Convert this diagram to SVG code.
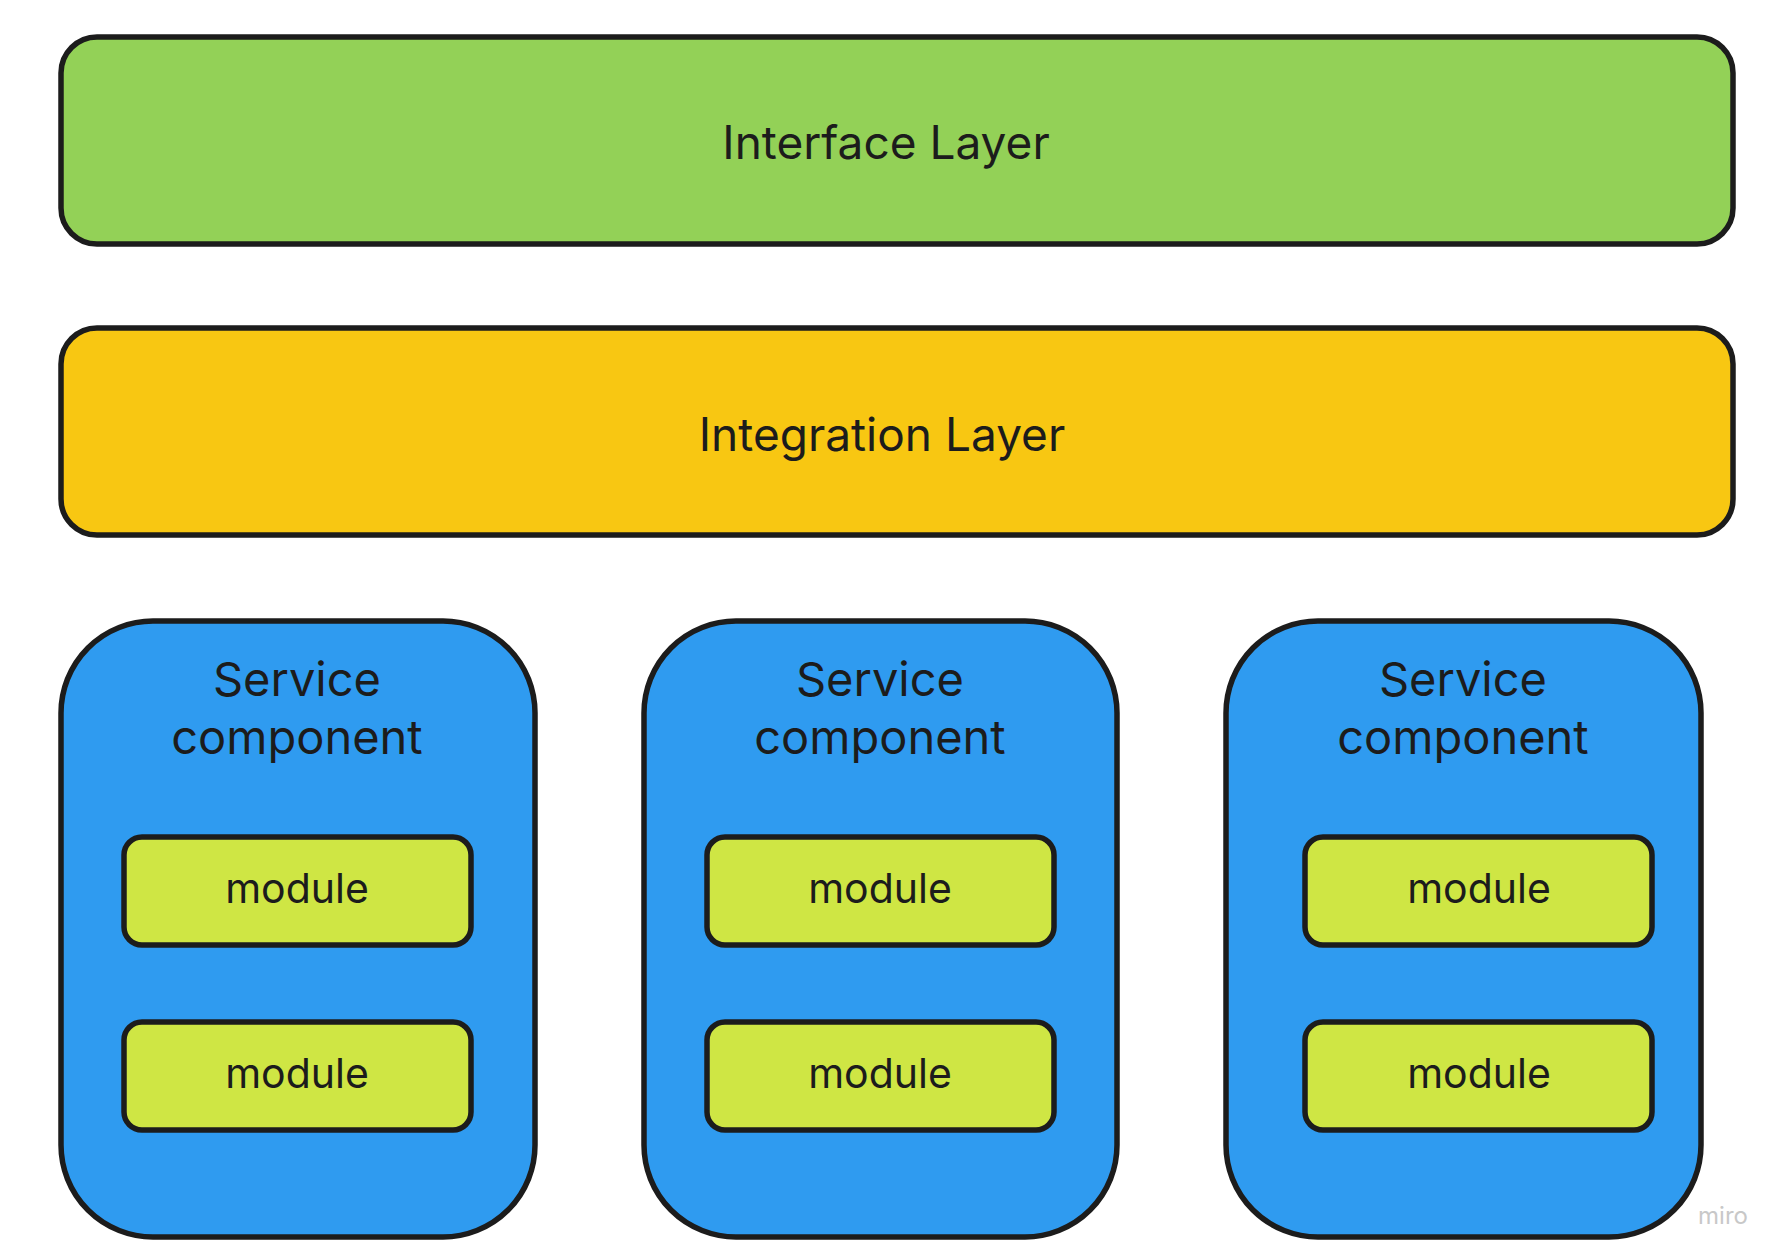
<svg xmlns="http://www.w3.org/2000/svg" width="1784" height="1260" viewBox="0 0 1784 1260">
<style>
.b{stroke:#1c1c1c;stroke-width:5.5}
.t{font-family:Inter,"Liberation Sans",sans-serif;fill:#1c1c1c;text-anchor:middle}
.L{font-size:46px}.S{font-size:47px}.M{font-size:41px}
</style>
<rect width="1784" height="1260" fill="#fff"/>
<g id="interface"><rect class="b" x="61" y="37" width="1672" height="207" rx="36" fill="#93D157"/><text class="t L" x="886" y="159">Interface Layer</text></g>
<g id="integration"><rect class="b" x="61" y="328" width="1672" height="207" rx="36" fill="#F8C712"/><text class="t L" x="882" y="451">Integration Layer</text></g>
<g id="svc1"><rect class="b" x="61" y="621" width="474" height="616" rx="92" fill="#2F9BF0"/><text class="t S" x="297" y="696">Service</text><text class="t S" x="297" y="754">component</text></g>
<g id="svc2"><rect class="b" x="644" y="621" width="473" height="616" rx="92" fill="#2F9BF0"/><text class="t S" x="880" y="696">Service</text><text class="t S" x="880" y="754">component</text></g>
<g id="svc3"><rect class="b" x="1226" y="621" width="475" height="616" rx="92" fill="#2F9BF0"/><text class="t S" x="1463" y="696">Service</text><text class="t S" x="1463" y="754">component</text></g>
<g id="m11"><rect class="b" x="124" y="837" width="347" height="108" rx="18" fill="#CFE644"/><text class="t M" x="297" y="903">module</text></g>
<g id="m12"><rect class="b" x="124" y="1022" width="347" height="108" rx="18" fill="#CFE644"/><text class="t M" x="297" y="1088">module</text></g>
<g id="m21"><rect class="b" x="707" y="837" width="347" height="108" rx="18" fill="#CFE644"/><text class="t M" x="880" y="903">module</text></g>
<g id="m22"><rect class="b" x="707" y="1022" width="347" height="108" rx="18" fill="#CFE644"/><text class="t M" x="880" y="1088">module</text></g>
<g id="m31"><rect class="b" x="1305" y="837" width="347" height="108" rx="18" fill="#CFE644"/><text class="t M" x="1479" y="903">module</text></g>
<g id="m32"><rect class="b" x="1305" y="1022" width="347" height="108" rx="18" fill="#CFE644"/><text class="t M" x="1479" y="1088">module</text></g>
<g id="connectors"></g>
<text x="1723" y="1224" font-family="Inter,'Liberation Sans',sans-serif" font-size="24" fill="#c8c8c8" text-anchor="middle">miro</text>
</svg>
